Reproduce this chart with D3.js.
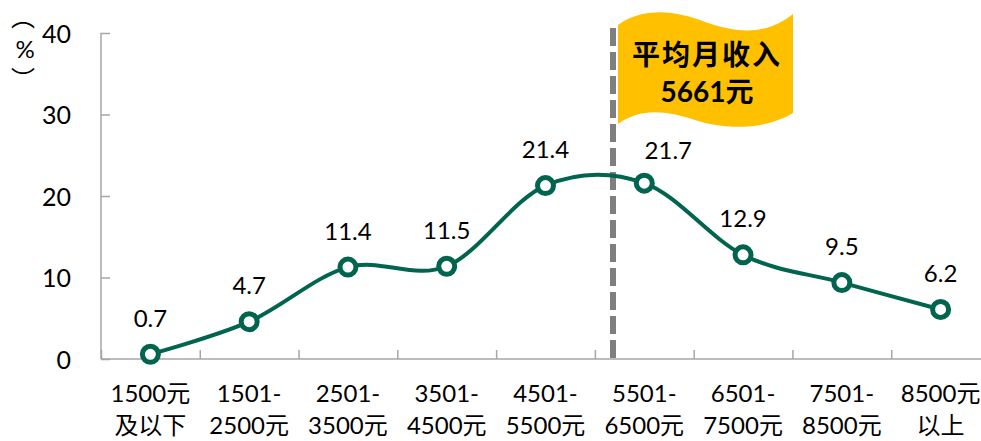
<!DOCTYPE html>
<html>
<head>
<meta charset="utf-8">
<script src="https://cdnjs.cloudflare.com/ajax/libs/d3/7.8.5/d3.min.js"></script>
<style>
html, body { margin: 0; padding: 0; background: white; overflow: hidden; }
text { font-family: Lato, "Noto Sans CJK SC", sans-serif; fill: black; }
</style>
</head>
<body></body>
<script>
var categories = [
  ["1500元", "及以下"], ["1501-", "2500元"], ["2501-", "3500元"],
  ["3501-", "4500元"], ["4501-", "5500元"], ["5501-", "6500元"],
  ["6501-", "7500元"], ["7501-", "8500元"], ["8500元", "以上"]
];
var values = [0.7, 4.7, 11.4, 11.5, 21.4, 21.7, 12.9, 9.5, 6.2];
var valueLabels = ["0.7", "4.7", "11.4", "11.5", "21.4", "21.7", "12.9", "9.5", "6.2"];
var yTicks = [0, 10, 20, 30, 40];
var flagLines = ["平均月收入", "5661元"];

var screen = {width: 981, height: 441};
var lineColor = "#00644f";
var axisColor = "#a6a6a6";

var svg = d3.select("body").append("svg")
  .attr("width", screen.width)
  .attr("height", screen.height);

var x = d3.scaleBand().domain(d3.range(categories.length)).range([101, 990]);
var edges = d3.scaleLinear().domain([0, categories.length]).range([101, 990]);
var y = d3.scaleLinear().domain([0, 40]).range([359, 33]);

function center(i) { return x(i) + x.bandwidth() / 2; }

// y axis
var yAxis = svg.append("g")
  .attr("transform", "translate(101,0)")
  .call(d3.axisLeft(y).tickValues(yTicks).tickSize(-9).tickPadding(30));
yAxis.selectAll("line, path").attr("stroke", axisColor).attr("stroke-width", 1.5);
yAxis.select("path").attr("d", "M0," + y(40) + "V" + y(0));
yAxis.selectAll("text").style("font-size", "25px").attr("dy", "0.36em").attr("text-anchor", "end");

// x axis
var xAxis = svg.append("g")
  .attr("transform", "translate(0,359)")
  .call(d3.axisBottom(edges).ticks(categories.length).tickSize(-9).tickFormat(""));
xAxis.selectAll("line, path").attr("stroke", axisColor).attr("stroke-width", 1.5);
xAxis.select("path").attr("d", "M101,0H990");

// category labels
var catLabels = svg.append("g").selectAll("text").data(categories).enter().append("text")
  .attr("text-anchor", "middle")
  .style("font-size", "24px");
catLabels.append("tspan")
  .attr("x", function (d, i) { return center(i); })
  .attr("y", 402)
  .text(function (d) { return d[0]; });
catLabels.append("tspan")
  .attr("x", function (d, i) { return center(i); })
  .attr("y", 434)
  .text(function (d) { return d[1]; });

// unit, vertical forms of the brackets
svg.append("text").attr("x", 23).attr("y", 26).attr("text-anchor", "middle")
  .style("font-size", "24px").text("︵");
svg.append("text").attr("x", 25).attr("y", 58).attr("text-anchor", "middle")
  .style("font-size", "24px").text("%");
svg.append("text").attr("x", 23).attr("y", 88).attr("text-anchor", "middle")
  .style("font-size", "24px").text("︶");

// average marker
svg.append("line")
  .attr("x1", 613).attr("x2", 613)
  .attr("y1", 28).attr("y2", y(0) + 1)
  .attr("stroke", "#7f7f7f")
  .attr("stroke-width", 6)
  .attr("stroke-dasharray", "18,6");

// flag
svg.append("path")
  .attr("d", "M618,25C645,5 680,12 705,22C745,36 770,32 793,14L793,113C765,130 725,130 695,120C665,110 640,108 618,124Z")
  .attr("fill", "#ffc000");
svg.append("g").selectAll("text").data(flagLines).enter().append("text")
  .attr("x", 707)
  .attr("y", function (d, i) { return 65 + i * 37; })
  .attr("text-anchor", "middle")
  .style("font-size", "28px")
  .style("font-weight", "bold")
  .style("letter-spacing", function (d, i) { return i === 0 ? "2px" : "0"; })
  .text(function (d) { return d; });

// curve and points sit a pixel under the gridline scale in the picture
var marks = svg.append("g").attr("transform", "translate(0,1)");

var line = d3.line()
  .x(function (d, i) { return center(i); })
  .y(function (d) { return y(d); })
  .curve(d3.curveCardinal.tension(0));
marks.append("path")
  .datum(values)
  .attr("d", line)
  .attr("fill", "none")
  .attr("stroke", lineColor)
  .attr("stroke-width", 4);

marks.append("g").selectAll("circle").data(values).enter().append("circle")
  .attr("cx", function (d, i) { return center(i); })
  .attr("cy", function (d) { return y(d); })
  .attr("r", 8)
  .attr("fill", "white")
  .attr("stroke", lineColor)
  .attr("stroke-width", 5);

svg.append("g").selectAll("text").data(values).enter().append("text")
  .attr("x", function (d, i) { return center(i) + (i === 5 ? 24 : 0); })
  .attr("y", function (d, i) { return y(d) - (i === 5 ? 23 : 26.5); })
  .attr("text-anchor", "middle")
  .style("font-size", "24px")
  .text(function (d, i) { return valueLabels[i]; });
</script>
</html>
